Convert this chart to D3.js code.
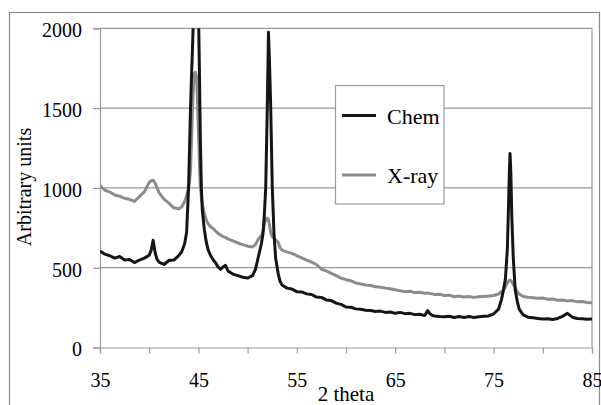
<!DOCTYPE html>
<meta charset="utf-8">
<script src="https://d3js.org/d3.v7.min.js"></script>
<style>
    body { margin: 0; background: #fff; }
    svg text { font-family: "Liberation Serif", "Times New Roman", serif !important; fill: #000; }
</style>
<div id="my_dataviz"></div>
<script>

    // 2 theta positions (degrees)
    var theta = [
        35, 35.5, 36, 36.5, 37, 37.5, 38, 38.5, 39, 39.5, 40, 40.2, 40.4, 40.6, 40.8, 41, 41.5, 42, 42.5, 43, 43.3, 43.6, 43.8,
        44.0, 44.1, 44.2, 44.3, 44.4, 44.5, 44.6, 44.7, 44.8, 44.9, 45.0, 45.1, 45.2, 45.3, 45.4, 45.6, 45.8, 46.0, 46.25, 46.5,
        46.75, 47, 47.25, 47.5, 47.75, 48, 48.5, 49, 49.5, 50, 50.5, 50.8, 51.1, 51.4, 51.57, 51.7, 51.84, 52.0, 52.12, 52.22,
        52.35, 52.51, 52.68, 52.85, 53.1, 53.3,
        53.5, 54, 54.5, 55, 55.5, 56, 56.5, 57, 57.5, 58, 58.5, 59, 59.5, 60, 60.5, 61, 61.5, 62, 62.5, 63, 63.5, 64, 64.5, 65,
        65.5, 66, 66.5, 67, 67.5, 68, 68.3, 68.5, 68.8, 69, 69.5, 70, 70.5, 71, 71.5, 72, 72.5, 73, 73.5, 74, 74.5, 75, 75.5, 75.8,
        76.0, 76.2, 76.4, 76.5, 76.6, 76.67, 76.75, 76.85, 77.0, 77.2, 77.4, 77.6, 78,
        78.5, 79, 79.5, 80, 80.5, 81, 81.5, 82, 82.5, 83, 83.5, 84, 84.5, 85
    ];

    var chem = [
        605, 585, 575, 560, 570, 548, 552, 532, 548, 560, 578, 610, 672, 595, 552, 535, 520, 545, 548, 575, 600, 650, 720,
        1000, 1250, 1500, 1700, 1880, 2080, 2700, 3300, 3300, 2700, 2150, 1750, 1300, 1000, 860, 740, 660, 610, 575, 550,
        530, 505, 490, 505, 515, 480, 460, 450, 440, 435, 450, 490, 570, 650, 716, 830, 1000, 1500, 1975, 1800,
        1500, 1000, 716, 560, 465, 415,
        392, 372, 366, 350, 348, 336, 332, 316, 314, 298, 294, 278, 270, 254, 252, 242, 240, 234, 232, 226, 228, 220, 222, 214,
        220, 212, 214, 206, 208, 200, 232, 214, 200, 198, 194, 192, 196, 188, 194, 188, 194, 188, 192, 196, 198, 210, 240, 300,
        360, 430, 620, 850, 1100, 1216, 1100, 820, 560, 360, 290, 240, 205,
        190, 186, 182, 178, 180, 176, 182, 195, 214, 190, 182, 180, 177, 178
    ];

    var xray = [
        1015, 985, 975, 955, 948, 935, 928, 915, 945, 975, 1035, 1045, 1048, 1030, 1000, 970, 930, 905, 875, 870, 880, 915, 950,
        1000, 1040, 1120, 1300, 1500, 1650, 1715, 1725, 1700, 1560, 1360, 1160, 1010, 945, 900, 840, 800, 775, 755, 745,
        730, 715, 705, 695, 690, 680, 668, 655, 645, 635, 630, 645, 680, 700, 730, 775, 800, 811, 800, 770,
        720, 695, 685, 675, 660, 625,
        610, 598, 590, 575, 562, 548, 535, 520, 490, 480, 465, 450, 435, 425, 418, 405, 398, 392, 388, 380, 378, 372, 368, 362,
        355, 350, 352, 344, 346, 340, 342, 338, 336, 332, 334, 326, 328, 318, 322, 316, 320, 314, 318, 320, 322, 326, 335, 350,
        360, 380, 405, 415, 420, 422, 420, 412, 395, 372, 350, 335, 320,
        315, 312, 308, 310, 302, 304, 296, 298, 292, 294, 286, 288, 282, 280
    ];

    var seriesNames = ["Chem", "X-ray"];
    var yTicks = [0, 500, 1000, 1500, 2000];
    var xTicks = [35, 40, 45, 50, 55, 60, 65, 70, 75, 80, 85];
    var xLabels = [35, 45, 55, 65, 75, 85];

    var serif = "'Liberation Serif', 'Times New Roman', serif";

    // set the dimensions and margins of the graph
    var W = 601, H = 405;
    var margin = { top: 28.3, right: 9, bottom: 57.5, left: 100 },
        width = W - margin.left - margin.right,
        height = H - margin.top - margin.bottom;

    var svg0 = d3.select("#my_dataviz")
        .append("svg")
        .attr("width", W)
        .attr("height", H)
        .style("font-family", serif);

    // outer chart border
    svg0.append("rect")
        .attr("x", 9.5).attr("y", 12.5)
        .attr("width", 590).attr("height", 420)
        .attr("fill", "none")
        .attr("stroke", "#8a8a8a")
        .attr("stroke-width", 1.2);

    var svg = svg0.append("g")
        .attr("transform", "translate(" + margin.left + "," + margin.top + ")");

    var x = d3.scaleLinear().domain([35, 85]).range([0, width]);
    var y = d3.scaleLinear().domain([0, 2000]).range([height, 0]);

    // gridlines
    svg.append("g")
        .selectAll("line")
        .data(yTicks.filter(function (d) { return d > 0; }))
        .enter()
        .append("line")
        .attr("x1", 0).attr("x2", width)
        .attr("y1", function (d) { return y(d); })
        .attr("y2", function (d) { return y(d); })
        .attr("stroke", "#9a9a9a")
        .attr("stroke-width", 1.2);

    // plot right edge
    svg.append("line")
        .attr("x1", width).attr("x2", width)
        .attr("y1", 0).attr("y2", height)
        .attr("stroke", "#9a9a9a")
        .attr("stroke-width", 1.2);

    // Y axis
    var yAxis = svg.append("g")
        .call(d3.axisLeft(y).tickValues(yTicks).tickSize(7).tickPadding(11).tickFormat(d3.format("d")));
    yAxis.attr("font-family", null);
    yAxis.select(".domain").attr("stroke", "#9a9a9a").attr("stroke-width", 1.2);
    yAxis.selectAll(".tick line").attr("stroke", "#9a9a9a").attr("stroke-width", 1.2);
    yAxis.selectAll(".tick text")
        .style("font-family", serif)
        .style("font-size", "20px")
        .attr("dy", "0.42em");

    // X axis
    var xAxis = svg.append("g")
        .attr("transform", "translate(0," + height + ")")
        .call(d3.axisBottom(x).tickValues(xTicks).tickSize(6).tickPadding(19)
            .tickFormat(function (d) { return xLabels.indexOf(d) >= 0 ? d : ""; }));
    xAxis.attr("font-family", null);
    xAxis.select(".domain").attr("stroke", "#9a9a9a").attr("stroke-width", 1.2);
    xAxis.selectAll(".tick line").attr("stroke", "#9a9a9a").attr("stroke-width", 1.2);
    xAxis.selectAll(".tick text")
        .style("font-family", serif)
        .style("font-size", "20px");

    // axis titles
    svg.append("text")
        .attr("text-anchor", "middle")
        .attr("x", width / 2)
        .attr("y", H - margin.top - 4)
        .style("font-size", "21px")
        .text("2 theta");

    svg.append("text")
        .attr("text-anchor", "middle")
        .attr("transform", "rotate(-90)")
        .attr("x", -(187 - margin.top))
        .attr("y", 31 - margin.left)
        .style("font-size", "20px")
        .text("Arbitrary units");

    // lines, clipped to plot area
    svg.append("clipPath").attr("id", "clip")
        .append("rect").attr("x", 0).attr("y", 0).attr("width", width).attr("height", height);

    var line = d3.line()
        .x(function (d, i) { return x(theta[i]); })
        .y(function (d) { return y(d); });

    svg.append("path")
        .datum(xray)
        .attr("clip-path", "url(#clip)")
        .attr("fill", "none")
        .attr("stroke", "#8c8c8c")
        .attr("stroke-width", 3)
        .attr("stroke-linejoin", "round")
        .attr("d", line);

    svg.append("path")
        .datum(chem)
        .attr("clip-path", "url(#clip)")
        .attr("fill", "none")
        .attr("stroke", "#151515")
        .attr("stroke-width", 3)
        .attr("stroke-linejoin", "round")
        .attr("d", line);

    // legend
    var legend = svg0.append("g").attr("transform", "translate(335.5,85.5)");
    legend.append("rect")
        .attr("width", 108.5).attr("height", 118.5)
        .attr("fill", "#fff")
        .attr("stroke", "#9a9a9a")
        .attr("stroke-width", 1.2);

    var colors = ["#151515", "#8c8c8c"];
    var rowsY = [30, 89.5];
    legend.selectAll("line.key")
        .data(seriesNames)
        .enter()
        .append("line")
        .attr("x1", 6.5).attr("x2", 40.5)
        .attr("y1", function (d, i) { return rowsY[i]; })
        .attr("y2", function (d, i) { return rowsY[i]; })
        .attr("stroke", function (d, i) { return colors[i]; })
        .attr("stroke-width", 3);

    legend.selectAll("text")
        .data(seriesNames)
        .enter()
        .append("text")
        .attr("x", 51.5)
        .attr("y", function (d, i) { return rowsY[i] + 8; })
        .style("font-size", "22px")
        .text(function (d) { return d; });

</script>
